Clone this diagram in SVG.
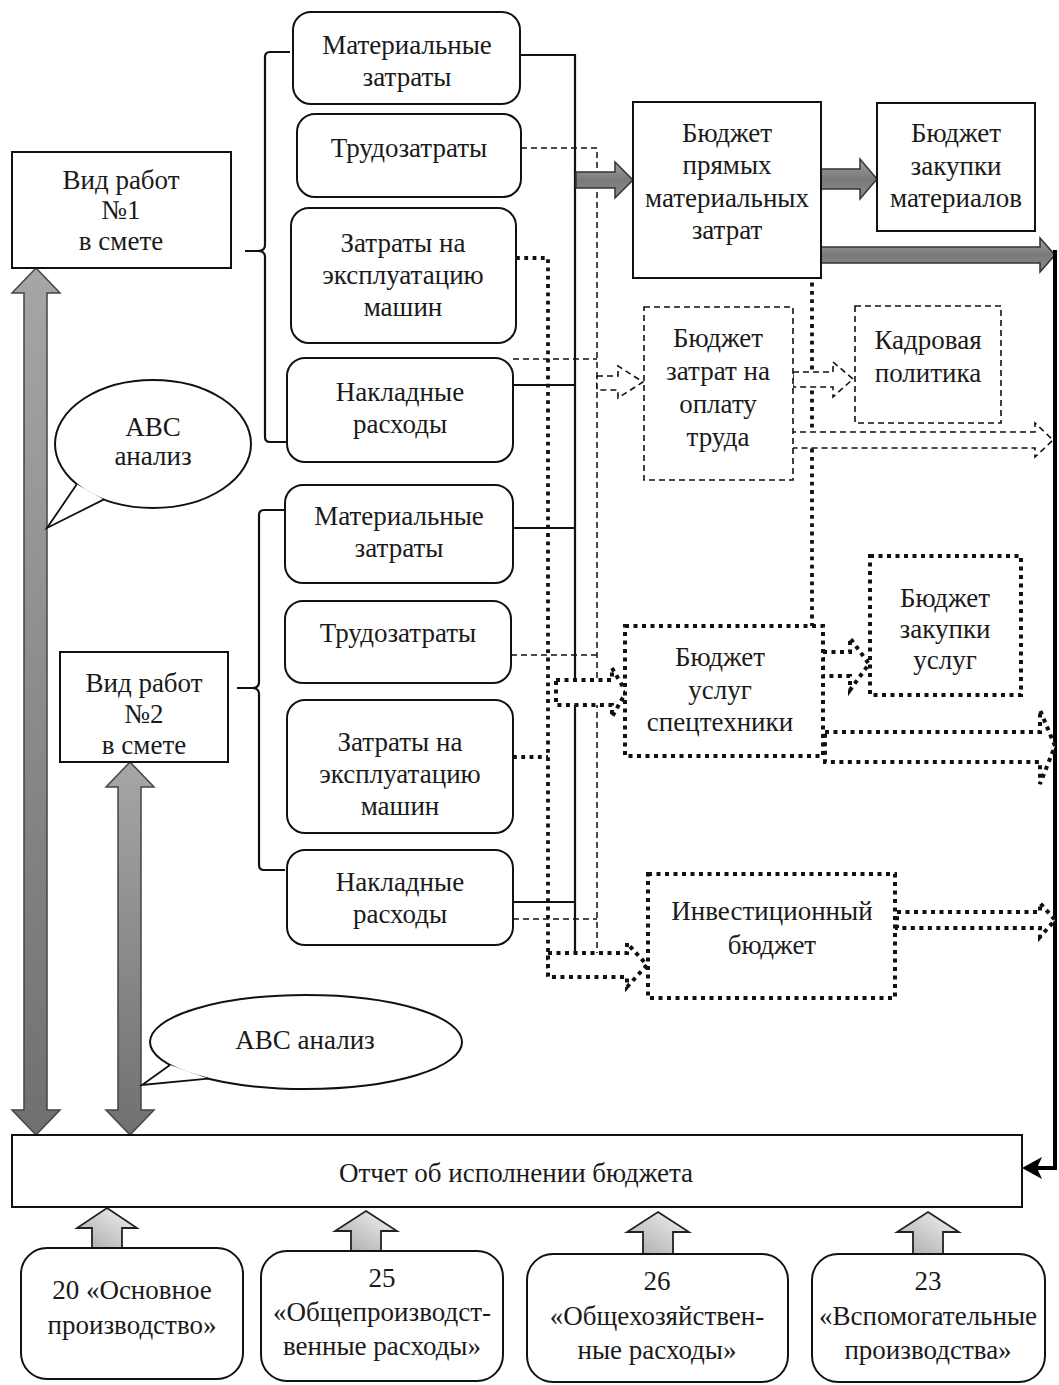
<svg xmlns="http://www.w3.org/2000/svg" width="1059" height="1385" viewBox="0 0 1059 1385">
<defs>
<linearGradient id="gv" x1="0" y1="0" x2="0" y2="1">
<stop offset="0" stop-color="#a6a6a6"/><stop offset="1" stop-color="#707070"/>
</linearGradient>
<linearGradient id="gh" x1="0" y1="0" x2="0" y2="1">
<stop offset="0" stop-color="#a0a0a0"/><stop offset="0.5" stop-color="#7a7a7a"/><stop offset="1" stop-color="#8c8c8c"/>
</linearGradient>
<linearGradient id="gu" x1="1" y1="0" x2="0" y2="1">
<stop offset="0" stop-color="#f4f4f4"/><stop offset="1" stop-color="#a8a8a8"/>
</linearGradient>
</defs>
<style>
.box{fill:#fff;stroke:#111;stroke-width:2}
.dash{fill:#fff;stroke:#111;stroke-width:1.6;stroke-dasharray:6 4}
.dot{fill:#fff;stroke:#111;stroke-width:4;stroke-dasharray:4 4.5}
.ln{fill:none;stroke:#111;stroke-width:2.2}
.lnd{fill:none;stroke:#111;stroke-width:1.5;stroke-dasharray:6 4}
.lnp{fill:none;stroke:#111;stroke-width:3.8;stroke-dasharray:3.8 4.5}
.ga{fill:url(#gh);stroke:#333;stroke-width:1.5}
.gv{fill:url(#gv);stroke:#444;stroke-width:1.5}
.gu{fill:url(#gu);stroke:#222;stroke-width:1.8}
.t{font-family:"Liberation Serif","Times New Roman",serif;font-size:27px;text-anchor:middle;dominant-baseline:central;fill:#1a1a1a}
</style>

<g id="connectors">
<!-- solid bus -->
<path class="ln" d="M518,55 H575 V953 M513,385 H575 M513,528 H575 M513,902 H575"/>
<!-- dashed bus -->
<path class="lnd" d="M521,148 H597 V953 M513,359 H597 M511,655 H597 M513,919 H597"/>
<!-- dotted bus -->
<path class="lnp" d="M516,258 H548 V977 M513,757 H548"/>
<!-- dotted from direct materials budget -->
<path class="lnp" d="M812,266 V626"/>
<!-- braces -->
<path class="ln" d="M290,52 H270 Q265,52 265,57 V245 Q265,251 258,251 H245 M258,251 Q265,251 265,257 V437 Q265,442 270,442 H288"/>
<path class="ln" d="M285,510 H264 Q259,510 259,515 V682 Q259,688 252,688 H237 M252,688 Q259,688 259,694 V865 Q259,870 264,870 H285"/>
<!-- gray block arrows -->
<polygon class="ga" points="576,172 615,172 615,162 633,180 615,198 615,188 576,188"/>
<polygon class="ga" points="821,169 860,169 860,159 877,179 860,199 860,189 821,189"/>
<polygon class="ga" points="821,247 1040,247 1040,238 1055,255 1040,272 1040,263 821,263"/>
<!-- black return line to report -->
<path fill="none" stroke="#000" stroke-width="4" d="M1055,250 V1168 H1036"/>
<polygon fill="#000" points="1022,1168 1042,1157 1037,1168 1042,1179"/>
<!-- dashed block arrows -->
<polygon class="dash" points="597,376 618,376 618,366 643,382 618,398 618,390 597,390"/>
<polygon class="dash" points="793,372 833,372 833,362 853,379 833,397 833,387 793,387"/>
<polygon class="dash" points="790,432 1035,432 1035,423 1053,440 1035,457 1035,448 790,448"/>
<!-- dotted block arrows -->
<polygon class="dot" points="556,680 612,680 612,668 626,692 612,717 612,705 556,705"/>
<polygon class="dot" points="823,652 850,652 850,638 869,664 850,690 850,676 823,676"/>
<polygon class="dot" points="825,732 1040,732 1040,710 1055,746 1040,784 1040,762 825,762"/>
<polygon class="dot" points="897,912 1040,912 1040,903 1055,920 1040,937 1040,928 897,928"/>
<polygon class="dot" points="548,953 627,953 627,943 647,965 627,987 627,977 548,977"/>
<!-- big double arrows -->
<polygon class="gv" points="36,268 60,293 47,293 47,1110 60,1110 36,1135 12,1110 24,1110 24,293 12,293"/>
<polygon class="gv" points="130,762 154,787 141,787 141,1110 154,1110 130,1135 106,1110 118,1110 118,787 106,787"/>
<!-- up arrows from accounts -->
<polygon class="gu" points="107,1208 137,1228 122,1228 122,1248 92,1248 92,1228 77,1228"/>
<polygon class="gu" points="366,1211 397,1231 381,1231 381,1251 351,1251 351,1231 335,1231"/>
<polygon class="gu" points="658,1212 689,1232 673,1232 673,1254 643,1254 643,1232 627,1232"/>
<polygon class="gu" points="928,1212 959,1232 943,1232 943,1254 913,1254 913,1232 897,1232"/>
</g>

<g id="vid1"><rect class="box" x="12" y="152" width="219" height="116"/>
<text class="t"><tspan x="121" y="180">Вид работ</tspan><tspan x="121" y="210">№1</tspan><tspan x="121" y="241">в смете</tspan></text></g>
<g id="vid2"><rect class="box" x="60" y="652" width="168" height="110"/>
<text class="t"><tspan x="144" y="683">Вид работ</tspan><tspan x="144" y="714">№2</tspan><tspan x="144" y="745">в смете</tspan></text></g>

<g id="abc1">
<ellipse class="box" cx="153" cy="444" rx="98" ry="64" stroke-width="1.8"/>
<path d="M76.8,484.3 L47,528 L104,499.4" fill="#fff" stroke="#111" stroke-width="1.8"/>
<text class="t"><tspan x="153" y="427">ABC</tspan><tspan x="153" y="456">анализ</tspan></text></g>
<g id="abc2">
<ellipse class="box" cx="306" cy="1042" rx="156" ry="47" stroke-width="1.8"/>
<path d="M170,1065 L142,1085 L208,1078.6" fill="#fff" stroke="#111" stroke-width="1.8"/>
<text class="t" x="305" y="1040">ABC анализ</text></g>

<g id="a1"><rect class="box" x="293" y="12" width="227" height="92" rx="18"/>
<text class="t"><tspan x="407" y="45">Материальные</tspan><tspan x="407" y="77">затраты</tspan></text></g>
<g id="a2"><rect class="box" x="297" y="114" width="224" height="83" rx="18"/>
<text class="t" x="409" y="148">Трудозатраты</text></g>
<g id="a3"><rect class="box" x="291" y="208" width="225" height="135" rx="18"/>
<text class="t"><tspan x="403" y="243">Затраты на</tspan><tspan x="403" y="275">эксплуатацию</tspan><tspan x="403" y="307">машин</tspan></text></g>
<g id="a4"><rect class="box" x="287" y="358" width="226" height="104" rx="18"/>
<text class="t"><tspan x="400" y="392">Накладные</tspan><tspan x="400" y="424">расходы</tspan></text></g>

<g id="b1"><rect class="box" x="285" y="485" width="228" height="98" rx="18"/>
<text class="t"><tspan x="399" y="516">Материальные</tspan><tspan x="399" y="548">затраты</tspan></text></g>
<g id="b2"><rect class="box" x="285" y="601" width="226" height="82" rx="18"/>
<text class="t" x="398" y="633">Трудозатраты</text></g>
<g id="b3"><rect class="box" x="287" y="700" width="226" height="133" rx="18"/>
<text class="t"><tspan x="400" y="742">Затраты на</tspan><tspan x="400" y="774">эксплуатацию</tspan><tspan x="400" y="806">машин</tspan></text></g>
<g id="b4"><rect class="box" x="287" y="850" width="226" height="95" rx="18"/>
<text class="t"><tspan x="400" y="882">Накладные</tspan><tspan x="400" y="914">расходы</tspan></text></g>

<g id="pryamye"><rect class="box" x="633" y="102" width="188" height="176"/>
<text class="t"><tspan x="727" y="133">Бюджет</tspan><tspan x="727" y="165">прямых</tspan><tspan x="727" y="198">материальных</tspan><tspan x="727" y="230">затрат</tspan></text></g>
<g id="zakupki-mat"><rect class="box" x="877" y="103" width="158" height="128"/>
<text class="t"><tspan x="956" y="133">Бюджет</tspan><tspan x="956" y="166">закупки</tspan><tspan x="956" y="198">материалов</tspan></text></g>
<g id="oplata"><rect class="dash" x="644" y="307" width="149" height="173"/>
<text class="t"><tspan x="718" y="338">Бюджет</tspan><tspan x="718" y="371">затрат на</tspan><tspan x="718" y="404">оплату</tspan><tspan x="718" y="437">труда</tspan></text></g>
<g id="kadry"><rect class="dash" x="855" y="306" width="146" height="117"/>
<text class="t"><tspan x="928" y="340">Кадровая</tspan><tspan x="928" y="373">политика</tspan></text></g>
<g id="spets"><rect class="dot" x="625" y="626" width="198" height="130"/>
<text class="t"><tspan x="720" y="657">Бюджет</tspan><tspan x="720" y="690">услуг</tspan><tspan x="720" y="722">спецтехники</tspan></text></g>
<g id="zakupki-usl"><rect class="dot" x="870" y="556" width="151" height="139"/>
<text class="t"><tspan x="945" y="598">Бюджет</tspan><tspan x="945" y="629">закупки</tspan><tspan x="945" y="660">услуг</tspan></text></g>
<g id="invest"><rect class="dot" x="648" y="874" width="247" height="124"/>
<text class="t"><tspan x="772" y="911">Инвестиционный</tspan><tspan x="772" y="945">бюджет</tspan></text></g>

<g id="report"><rect class="box" x="12" y="1135" width="1010" height="72"/>
<text class="t" x="516" y="1173">Отчет об исполнении бюджета</text></g>

<g id="acc20"><rect class="box" x="21" y="1248" width="222" height="131" rx="26"/>
<text class="t"><tspan x="132" y="1290">20 «Основное</tspan><tspan x="132" y="1325">производство»</tspan></text></g>
<g id="acc25"><rect class="box" x="261" y="1251" width="242" height="130" rx="26"/>
<text class="t"><tspan x="382" y="1278">25</tspan><tspan x="382" y="1312">«Общепроизводст-</tspan><tspan x="382" y="1346">венные расходы»</tspan></text></g>
<g id="acc26"><rect class="box" x="527" y="1254" width="261" height="128" rx="26"/>
<text class="t"><tspan x="657" y="1281">26</tspan><tspan x="657" y="1316">«Общехозяйствен-</tspan><tspan x="657" y="1350">ные расходы»</tspan></text></g>
<g id="acc23"><rect class="box" x="812" y="1254" width="233" height="128" rx="26"/>
<text class="t"><tspan x="928" y="1281">23</tspan><tspan x="928" y="1316">«Вспомогательные</tspan><tspan x="928" y="1350">производства»</tspan></text></g>
</svg>
